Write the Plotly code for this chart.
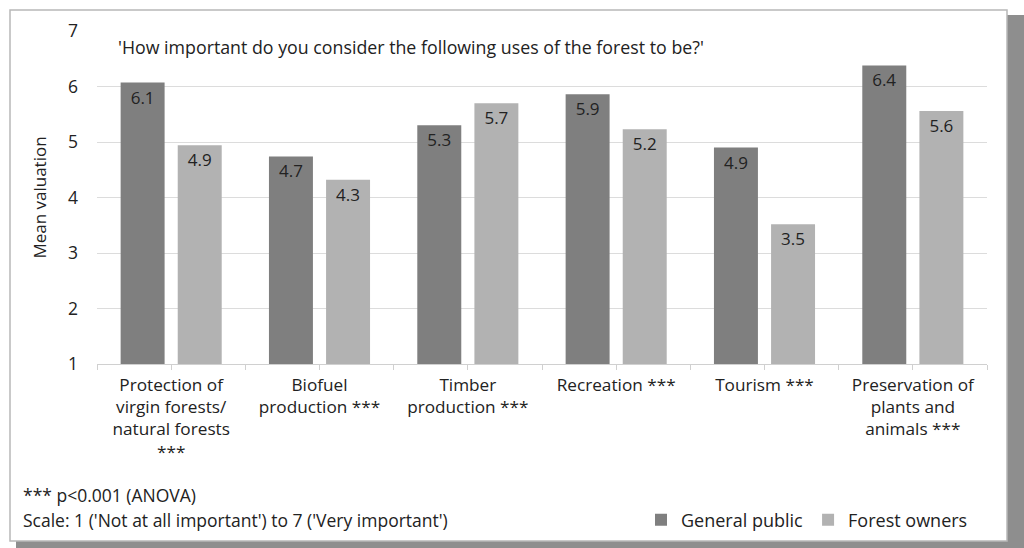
import plotly.graph_objects as go

categories = [
    "Protection of<br>virgin forests/<br>natural forests<br>***",
    "Biofuel<br>production ***",
    "Timber<br>production ***",
    "Recreation ***",
    "Tourism ***",
    "Preservation of<br>plants and<br>animals ***",
]
general_public = [6.07, 4.74, 5.30, 5.86, 4.90, 6.38]
forest_owners = [4.94, 4.32, 5.70, 5.23, 3.52, 5.56]
general_labels = ["6.1", "4.7", "5.3", "5.9", "4.9", "6.4"]
owner_labels = ["4.9", "4.3", "5.7", "5.2", "3.5", "5.6"]
y_ticks = [1, 2, 3, 4, 5, 6, 7]

W, H = 1024, 548
L, R, T, B = 97, 37, 31, 184
PW, PH = W - L - R, H - T - B


def px(x):
    return (x - L) / PW


def py(y):
    return (H - B - y) / PH


FONT = "Open Sans"
TXT = "#222222"
xs = list(range(len(categories)))

fig = go.Figure()
fig.add_trace(go.Bar(
    x=xs, y=general_public, name="General public",
    marker=dict(color="#7f7f7f", line=dict(width=0)),
    text=general_labels, textposition="inside", insidetextanchor="end",
    textfont=dict(family=FONT, size=17, color=TXT),
    textangle=0,
))
fig.add_trace(go.Bar(
    x=xs, y=forest_owners, name="Forest owners",
    marker=dict(color="#b2b2b2", line=dict(width=0)),
    text=owner_labels, textposition="inside", insidetextanchor="end",
    textfont=dict(family=FONT, size=17, color=TXT),
    textangle=0,
))

shapes = [
    dict(type="rect", xref="paper", yref="paper", layer="below",
         x0=px(16), x1=px(1030), y0=py(560), y1=py(15),
         fillcolor="#8e8e8e", line=dict(width=0)),
    dict(type="rect", xref="paper", yref="paper", layer="below",
         x0=px(10), x1=px(1007), y0=py(541), y1=py(10),
         fillcolor="#ffffff", line=dict(color="#b8b8b8", width=1.5)),
]

annotations = [
    dict(text="'How important do you consider the following uses of the forest to be?'",
         xref="paper", yref="paper", x=px(116), y=py(47), xanchor="left", yanchor="middle",
         showarrow=False, font=dict(family=FONT, size=17.8, color=TXT)),
    dict(text="*** p<0.001 (ANOVA)", xref="paper", yref="paper",
         x=px(21), y=py(495), xanchor="left", yanchor="middle",
         showarrow=False, font=dict(family=FONT, size=17.5, color=TXT)),
    dict(text="Scale: 1 ('Not at all important') to 7 ('Very important')", xref="paper", yref="paper",
         x=px(21), y=py(520), xanchor="left", yanchor="middle",
         showarrow=False, font=dict(family=FONT, size=17.5, color=TXT)),
]

fig.update_layout(
    width=W, height=H,
    margin=dict(l=L, r=R, t=T, b=B, autoexpand=False),
    paper_bgcolor="#ffffff", plot_bgcolor="rgba(0,0,0,0)",
    barmode="group", bargap=0.23, bargroupgap=0.23,
    font=dict(family=FONT, size=17, color=TXT),
    shapes=shapes, annotations=annotations,
    showlegend=True,
    legend=dict(orientation="h", x=px(641), y=py(520), xanchor="left", yanchor="middle",
                bgcolor="rgba(0,0,0,0)", font=dict(family=FONT, size=18, color=TXT),
                itemwidth=30, traceorder="normal"),
)
fig.update_xaxes(
    range=[-0.5, len(categories) - 0.5],
    tickvals=xs, ticktext=categories,
    ticks="outside", ticklen=5, tickcolor="#d0d0d0",
    minor=dict(tickvals=[i - 0.5 for i in range(len(categories) + 1)],
               ticks="outside", ticklen=5, tickcolor="#d0d0d0"),
    showline=True, linecolor="#d0d0d0", linewidth=1,
    showgrid=False, zeroline=False,
    tickfont=dict(family=FONT, size=17.2, color=TXT),
)
fig.update_yaxes(
    range=[1, 7], tickvals=y_ticks, showgrid=True, gridcolor="#dcdcdc", gridwidth=1,
    zeroline=False, showline=False, ticks="", ticklabelstandoff=18,
    tickfont=dict(family=FONT, size=17.5, color=TXT),
    title=dict(text="Mean valuation", standoff=17, font=dict(family=FONT, size=17, color=TXT)),
)

fig.write_html("out.html", config={"displayModeBar": False},
               post_script="document.body.style.margin='0';document.body.style.overflow='hidden';")
